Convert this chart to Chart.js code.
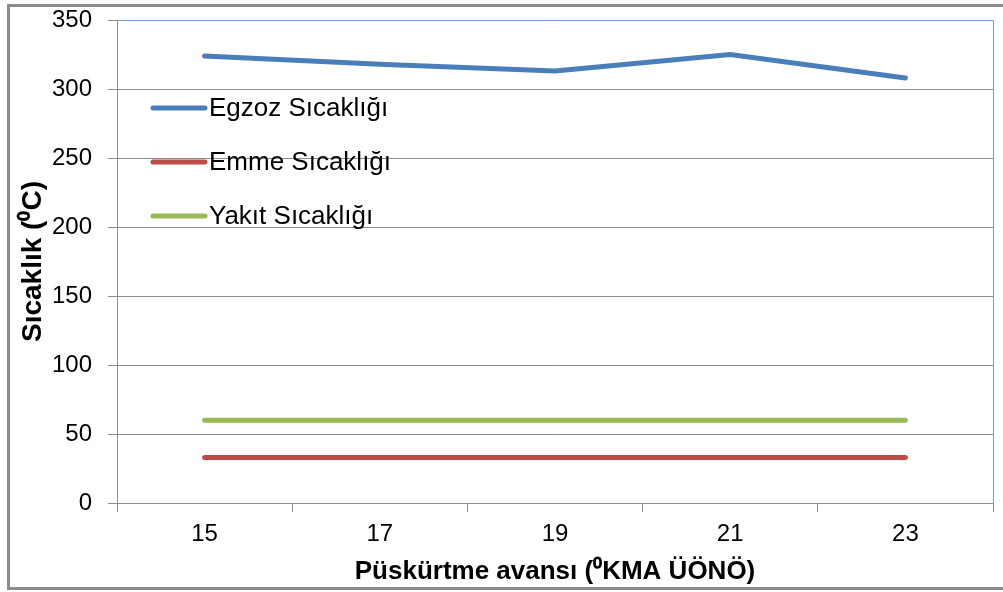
<!DOCTYPE html>
<html>
<head>
<meta charset="utf-8">
<script src="https://cdn.jsdelivr.net/npm/chart.js@4/dist/chart.umd.min.js"></script>
<style>
  body { margin: 0; background: #fff; }
  #wrap { width: 1003px; height: 592px; position: relative; }
</style>
</head>
<body>
<div id="wrap"><canvas id="tempChart"></canvas></div>
<script>
// chart data
const categories = ['15', '17', '19', '21', '23'];
const egzozValues = [324, 318, 313, 325, 308];
const emmeValues = [33, 33, 33, 33, 33];
const yakitValues = [60, 60, 60, 60, 60];
const seriesNames = ['Egzoz Sıcaklığı', 'Emme Sıcaklığı', 'Yakıt Sıcaklığı'];

const FONT = 'Liberation Sans, Arial, sans-serif';

// frame around whole picture, blue border on top/right of plot, legend inside plot
const framePlugin = {
    id: 'frame',
    beforeDraw(chart) {
        const c = chart.ctx;
        c.save();
        c.strokeStyle = '#8c8c8c';
        c.lineWidth = 3;
        c.strokeRect(8.5, 5.5, 1000, 583);
        c.restore();
    },
    afterDatasetsDraw(chart) {
        const c = chart.ctx;
        const a = chart.chartArea;
        c.save();
        c.strokeStyle = '#6f9fd8';
        c.lineWidth = 1;
        c.beginPath();
        c.moveTo(a.left, a.top + 0.5);
        c.lineTo(a.right + 0.5, a.top + 0.5);
        c.lineTo(a.right + 0.5, a.bottom);
        c.stroke();

        // legend
        c.font = '26px ' + FONT;
        c.textBaseline = 'middle';
        c.fillStyle = '#000';
        chart.data.datasets.forEach((ds, i) => {
            const y = a.top + 88 + i * 54;
            c.strokeStyle = ds.borderColor;
            c.lineWidth = 5;
            c.lineCap = 'round';
            c.beginPath();
            c.moveTo(a.left + 36, y);
            c.lineTo(a.left + 88, y);
            c.stroke();
            c.fillText(ds.label, a.left + 92, y + 1);
        });
        c.restore();
    }
};

const ctx = document.getElementById('tempChart').getContext('2d');
new Chart(ctx, {
    type: 'line',
    data: {
        labels: categories,
        datasets: [
            { label: seriesNames[0], data: egzozValues, borderColor: '#4a7ebb' },
            { label: seriesNames[1], data: emmeValues, borderColor: '#be4b48' },
            { label: seriesNames[2], data: yakitValues, borderColor: '#98b954' }
        ]
    },
    options: {
        responsive: true,
        maintainAspectRatio: false,
        animation: false,
        elements: {
            line: { borderWidth: 5, borderCapStyle: 'round', tension: 0 },
            point: { radius: 0 }
        },
        layout: { padding: { left: 10, right: 10, top: 20, bottom: 4 } },
        scales: {
            x: {
                offset: true,
                grid: { offset: true, drawOnChartArea: false, tickLength: 9, color: '#8c8c8c' },
                border: { color: '#8c8c8c' },
                ticks: { color: '#000', font: { family: FONT, size: 24 }, padding: 8 },
                title: {
                    display: true,
                    text: 'Püskürtme avansı (⁰KMA ÜÖNÖ)',
                    color: '#000',
                    font: { family: FONT, size: 26, weight: 'bold' },
                    padding: { top: 4, bottom: 1 }
                },
                afterFit(scale) { scale.height = 85; }
            },
            y: {
                min: 0,
                max: 350,
                ticks: { stepSize: 50, color: '#000', font: { family: FONT, size: 24 }, padding: 16 },
                grid: { tickLength: 9, color: '#8c8c8c' },
                border: { color: '#8c8c8c' },
                title: {
                    display: true,
                    text: 'Sıcaklık (⁰C)',
                    color: '#000',
                    font: { family: FONT, size: 28, weight: 'bold' },
                    padding: { top: 6, bottom: 4 }
                },
                afterFit(scale) {
                    scale.width = 107;
                    scale.paddingTop = 0;
                    scale.paddingBottom = 0;
                }
            }
        },
        plugins: {
            legend: { display: false },
            tooltip: { enabled: false }
        }
    },
    plugins: [framePlugin]
});
</script>
</body>
</html>
